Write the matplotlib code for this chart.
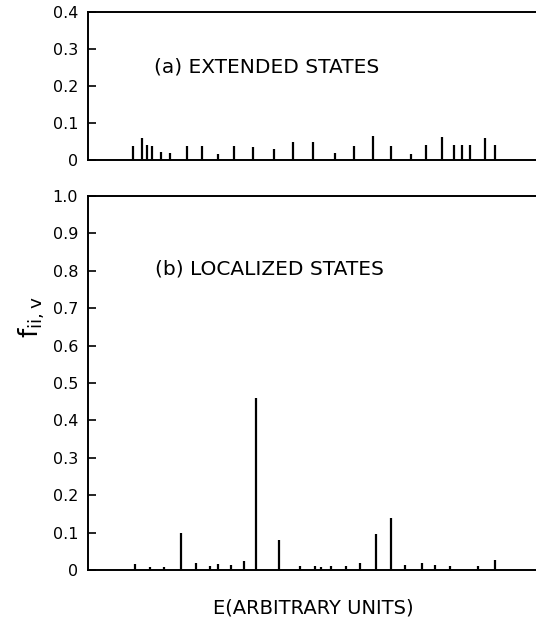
import matplotlib
matplotlib.use("Agg")
import matplotlib.pyplot as plt

# energies in arbitrary units, oscillator strengths f_ii,v
ext_E = [10.0, 12.1, 13.2, 14.3, 16.3, 18.3, 21.9, 25.4, 28.8, 32.4, 36.6, 41.3, 45.5,
         50.0, 54.9, 59.2, 63.4, 67.4, 71.7, 75.2, 78.6, 81.3, 83.0, 84.8, 88.2, 90.4]
ext_f = [0.039, 0.059, 0.040, 0.039, 0.021, 0.018, 0.039, 0.039, 0.015, 0.039, 0.036, 0.030, 0.048,
         0.048, 0.020, 0.039, 0.064, 0.039, 0.015, 0.040, 0.062, 0.040, 0.040, 0.040, 0.060, 0.040]

loc_E = [10.5, 13.7, 17.0, 20.7, 23.9, 27.2, 29.0, 31.8, 34.7, 37.4, 42.5, 47.1, 50.4,
         51.8, 53.9, 57.4, 60.5, 63.9, 67.4, 70.4, 74.1, 77.2, 80.4, 86.6, 90.5]
loc_f = [0.016, 0.009, 0.008, 0.100, 0.020, 0.010, 0.017, 0.013, 0.023, 0.460, 0.080, 0.012, 0.012,
         0.007, 0.012, 0.012, 0.020, 0.097, 0.139, 0.013, 0.020, 0.013, 0.010, 0.012, 0.027]

top_ticks = [0, 0.1, 0.2, 0.3, 0.4]
top_labels = ["0", "0.1", "0.2", "0.3", "0.4"]
bot_ticks = [0, 0.1, 0.2, 0.3, 0.4, 0.5, 0.6, 0.7, 0.8, 0.9, 1.0]
bot_labels = ["0", "0.1", "0.2", "0.3", "0.4", "0.5", "0.6", "0.7", "0.8", "0.9", "1.0"]

plt.rcParams["font.family"] = "DejaVu Sans"

fig = plt.figure(figsize=(5.36, 6.21), dpi=100)
ax1 = fig.add_axes([0.164, 0.7424, 0.84, 0.2383])
ax2 = fig.add_axes([0.164, 0.0821, 0.84, 0.6023])


def style(ax, ticks, labels, top):
    ax.set_xlim(0, 100)
    ax.set_ylim(0, top)
    ax.set_yticks(ticks)
    ax.set_yticklabels(labels)
    ax.set_xticks([])
    ax.spines["right"].set_visible(False)
    for s in ["left", "top", "bottom"]:
        ax.spines[s].set_linewidth(1.4)
    ax.tick_params(axis="y", direction="in", length=6, width=1.2, labelsize=11.5, pad=7)


ax1.vlines(ext_E, 0, ext_f, color="black", linewidth=1.6)
style(ax1, top_ticks, top_labels, 0.4)
ax1.text(14.6, 0.25, "(a) EXTENDED STATES", fontsize=14.5, va="center")

ax2.vlines(loc_E, 0, loc_f, color="black", linewidth=1.6)
style(ax2, bot_ticks, bot_labels, 1.0)
ax2.text(15.0, 0.805, "(b) LOCALIZED STATES", fontsize=14.5, va="center")

fig.text(0.06, 0.49, r"$\mathregular{f_{ii,v}}$", fontsize=19, rotation=90,
         ha="center", va="center")
fig.text(0.584, 0.021, "E(ARBITRARY UNITS)", fontsize=14, ha="center", va="center")

fig.savefig("out.png", dpi=100)
plt.close(fig)
